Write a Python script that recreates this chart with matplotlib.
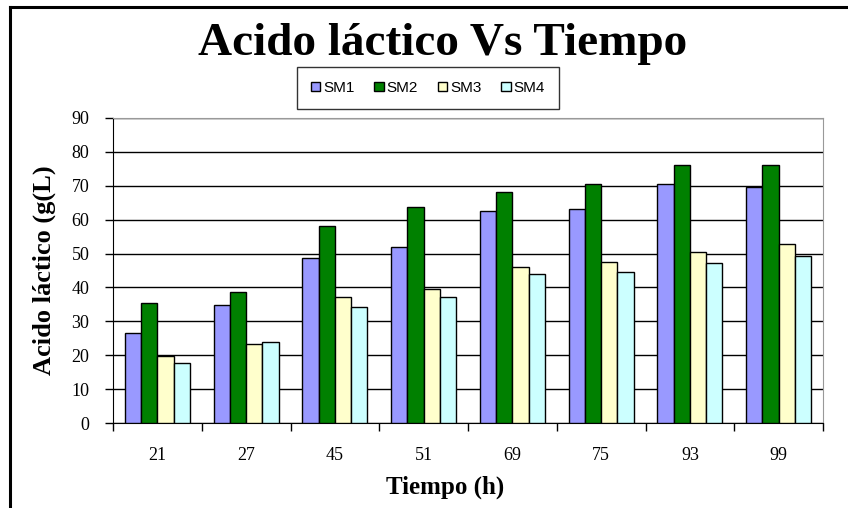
import matplotlib
matplotlib.use("Agg")
import matplotlib.pyplot as plt
import numpy as np
from matplotlib.lines import Line2D

horas = ["21", "27", "45", "51", "69", "75", "93", "99"]
sm1 = [26.5, 34.7, 48.7, 51.9, 62.6, 63.2, 70.5, 69.6]
sm2 = [35.4, 38.8, 58.0, 63.7, 68.3, 70.4, 76.1, 76.1]
sm3 = [19.9, 23.3, 37.3, 39.5, 46.0, 47.6, 50.6, 52.8]
sm4 = [17.7, 23.9, 34.2, 37.3, 44.0, 44.5, 47.2, 49.3]
series = ["SM1", "SM2", "SM3", "SM4"]
colores = ["#9999FF", "#008000", "#FFFFCC", "#CCFFFF"]

serif = ["Liberation Serif", "DejaVu Serif"]
sans = ["Liberation Sans", "DejaVu Sans"]

W, H = 848, 508
fig = plt.figure(figsize=(W / 100, H / 100), dpi=100)
ax = fig.add_axes([113 / W, 1 - 423 / H, 710 / W, 305 / H])

x = np.arange(len(horas))
bw = 0.183
for i, (vals, lab, c) in enumerate(zip([sm1, sm2, sm3, sm4], series, colores)):
    ax.bar(x + (i - 1.5) * bw, vals, bw, color=c, edgecolor="black",
           linewidth=1.0, label=lab, zorder=3)

ax.set_xlim(-0.5, len(horas) - 0.5)
ax.set_ylim(0, 90)
ax.set_yticks(np.arange(0, 91, 10))
ax.yaxis.grid(True, color="black", linewidth=1.0, zorder=0)
ax.set_axisbelow(True)

ax.set_xticks(x)
ax.set_xticklabels(horas, family=serif, fontsize=13)
ax.set_xticks(np.arange(-0.5, len(horas), 1), minor=True)
ax.tick_params(axis="x", which="major", length=0, pad=17)
ax.tick_params(axis="x", which="minor", length=6, width=1, direction="out")
ax.tick_params(axis="y", length=6, width=1, direction="out", pad=11)
for t in ax.get_yticklabels():
    t.set_family(serif)
    t.set_fontsize(13)

ax.spines["left"].set_color("black")
ax.spines["bottom"].set_color("black")
ax.spines["top"].set_color("#999999")
ax.spines["right"].set_color("#999999")

ax.set_ylabel("Acido láctico (g(L)", family=serif, fontsize=19,
              fontweight="bold")
ax.yaxis.set_label_coords(-(113 - 44) / 710, (423 - 270) / 305)
ax.yaxis.label.set_va("center")
ax.set_xlabel("Tiempo (h)", family=serif, fontsize=18, fontweight="bold")
ax.xaxis.set_label_coords((445 - 113) / 710, -(487 - 423) / 305)
ax.xaxis.label.set_va("center")

fig.text(443 / W, 1 - 55 / H, "Acido láctico Vs Tiempo", family=serif,
         fontsize=34, fontweight="bold", ha="center", va="baseline")

leg = fig.legend(loc="center", bbox_to_anchor=(428 / W, 1 - 88 / H), ncol=4,
                 prop={"family": sans, "size": 11}, frameon=True, fancybox=False,
                 edgecolor="black", handlelength=0.6, handleheight=0.6,
                 handletextpad=0.2, columnspacing=1.3, borderpad=0.9)
leg.get_frame().set_linewidth(1.0)

fig.add_artist(Line2D([10 / W, 10 / W], [0, 1 - 7 / H], transform=fig.transFigure,
                      color="black", linewidth=2.2))
fig.add_artist(Line2D([10 / W, 1], [1 - 7 / H, 1 - 7 / H], transform=fig.transFigure,
                      color="black", linewidth=2.2))

fig.savefig("out.png", dpi=100)
